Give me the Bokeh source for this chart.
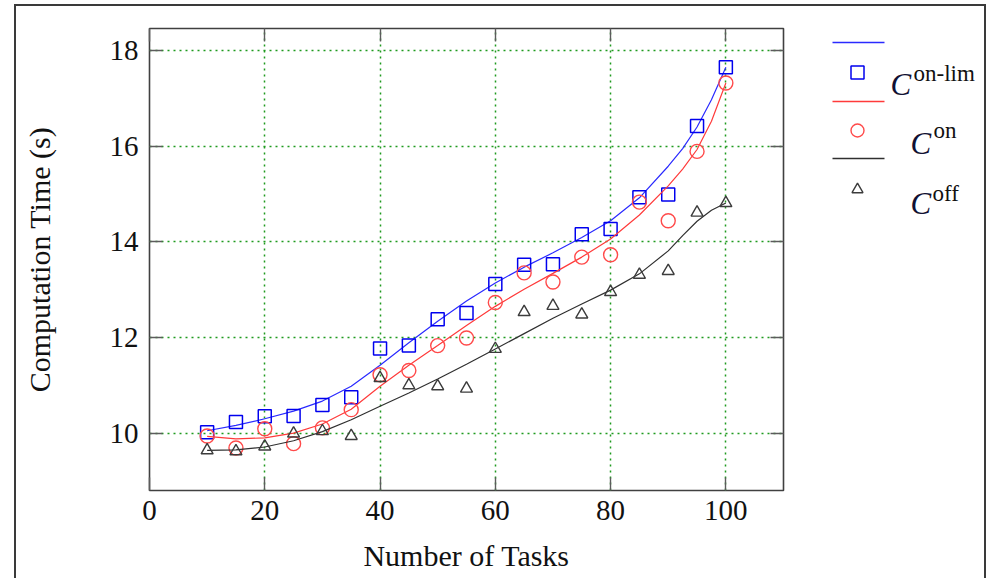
from bokeh.plotting import figure
from bokeh.models import LinearAxis, FixedTicker, Range1d
from bokeh.layouts import row
from bokeh.embed import file_html
from bokeh.resources import INLINE
from bokeh.core.properties import value

# ---------------- data ----------------
tasks = [10, 15, 20, 25, 30, 35, 40, 45, 50, 55, 60, 65, 70, 75, 80, 85, 90, 95, 100]
c_onlim = [10.02, 10.23, 10.35, 10.36, 10.59, 10.75, 11.77, 11.83, 12.38, 12.51,
           13.12, 13.52, 13.53, 14.16, 14.27, 14.93, 14.99, 16.42, 17.65]
c_on = [9.94, 9.69, 10.09, 9.78, 10.11, 10.49, 11.22, 11.31, 11.83, 11.99,
        12.73, 13.35, 13.16, 13.68, 13.73, 14.83, 14.44, 15.89, 17.32]
c_off = [9.64, 9.62, 9.72, 9.99, 10.04, 9.94, 11.15, 11.00, 10.98, 10.93,
         11.76, 12.53, 12.66, 12.48, 12.95, 13.31, 13.39, 14.61, 14.81]

fit_tasks = [10, 15, 20, 25, 30, 35, 40, 45, 50, 55, 60, 65, 70, 75, 80, 85, 90, 92.5, 95, 97.5, 100]
fit_onlim = [10.05, 10.16, 10.30, 10.46, 10.67, 10.98, 11.42, 11.89, 12.34, 12.76, 13.14,
             13.47, 13.77, 14.09, 14.44, 14.92, 15.58, 15.95, 16.40, 16.97, 17.65]
fit_on = [9.93, 9.88, 9.90, 10.00, 10.19, 10.50, 10.98, 11.42, 11.83, 12.25, 12.65,
          13.01, 13.34, 13.68, 14.06, 14.56, 15.17, 15.52, 15.93, 16.52, 17.32]
fit_off = [9.64, 9.65, 9.71, 9.84, 10.03, 10.28, 10.56, 10.84, 11.13, 11.44, 11.76,
           12.08, 12.40, 12.70, 12.99, 13.33, 13.81, 14.13, 14.43, 14.66, 14.81]

x_ticks = [0, 20, 40, 60, 80, 100]
y_ticks = [10, 12, 14, 16, 18]
x_label = "Number of Tasks"
y_label = "Computation Time (s)"
legend_base = ["C", "C", "C"]
legend_sup = ["on-lim", "on", "off"]

FONT = "Liberation Serif"
GREEN = "#1f9a1f"
FRAME = "#404040"
TICK = "#5c5c5c"
BLUE_L, BLUE_M = "#2a2aff", "#0000ee"
RED_L, RED_M = "#ff3a3a", "#ff4a4a"
BLK_L, BLK_M = "#303030", "#3c3c3c"

# ---------------- main plot ----------------
p = figure(width=784, height=574, x_range=Range1d(0, 110), y_range=Range1d(8.8, 18.46),
           output_backend="svg", toolbar_location=None,
           min_border_left=133, min_border_right=17, min_border_top=22, min_border_bottom=90)
p.background_fill_color = "white"
p.border_fill_color = "white"
p.outline_line_color = FRAME
p.outline_line_width = 1.6

bottom_ax = p.below[0]
left_ax = p.left[0]
bottom_ax.ticker = FixedTicker(ticks=x_ticks)
left_ax.ticker = FixedTicker(ticks=y_ticks)
top_ax = LinearAxis(ticker=FixedTicker(ticks=x_ticks))
right_ax = LinearAxis(ticker=FixedTicker(ticks=y_ticks))
p.add_layout(top_ax, "above")
p.add_layout(right_ax, "right")
for ax in [bottom_ax, left_ax, top_ax, right_ax]:
    ax.axis_line_color = None
    ax.major_tick_in = 13
    ax.major_tick_out = 0
    ax.minor_tick_line_color = None
    ax.major_tick_line_color = TICK
    ax.major_tick_line_width = 1.4
    ax.major_label_text_font = FONT
    ax.major_label_text_font_size = "29px"
    ax.major_label_text_color = "#111111"
for ax in [top_ax, right_ax]:
    ax.major_label_text_font_size = "0px"
    ax.major_label_text_color = None
    ax.major_label_standoff = 0

bottom_ax.major_label_standoff = 10
left_ax.major_label_standoff = 11
bottom_ax.axis_label = x_label
left_ax.axis_label = y_label
for ax in [bottom_ax, left_ax]:
    ax.axis_label_text_font = FONT
    ax.axis_label_text_font_size = "30px"
    ax.axis_label_text_font_style = "normal"
    ax.axis_label_text_color = "#111111"
bottom_ax.axis_label_standoff = 16
left_ax.axis_label_standoff = 51

p.xgrid.ticker = FixedTicker(ticks=x_ticks)
p.ygrid.ticker = FixedTicker(ticks=y_ticks)
for g in [p.xgrid[0], p.ygrid[0]]:
    g.grid_line_color = GREEN
    g.grid_line_dash = "2 4"
    g.grid_line_width = 1.5

p.line(fit_tasks, fit_onlim, line_color=BLUE_L, line_width=1.2)
p.scatter(tasks, c_onlim, marker="square", size=13, fill_color=None,
          line_color=BLUE_M, line_width=1.5)
p.line(fit_tasks, fit_on, line_color=RED_L, line_width=1.2)
p.scatter(tasks, c_on, marker="circle", size=14, fill_color=None,
          line_color=RED_M, line_width=1.4)
p.line(fit_tasks, fit_off, line_color=BLK_L, line_width=1.2)
p.scatter(tasks, c_off, marker="triangle", size=12, fill_color=None,
          line_color=BLK_M, line_width=1.4)

# ---------------- legend panel (page pixel coordinates; frame aligned with main frame) ----------------
leg = figure(width=184, height=574, x_range=Range1d(800, 984), y_range=Range1d(490, 28),
             output_backend="svg", toolbar_location=None, x_axis_type=None, y_axis_type=None,
             min_border_left=0, min_border_right=0, min_border_top=22, min_border_bottom=90)
leg.outline_line_color = None
leg.background_fill_color = "white"
leg.border_fill_color = "white"

seg_y = [42, 101, 158]
leg.segment(x0=[832] * 3, x1=[884] * 3, y0=seg_y, y1=seg_y,
            line_color=[BLUE_L, RED_L, BLK_L], line_width=1.4)
leg.scatter([857], [72], marker="square", size=13, fill_color=None, line_color=BLUE_M, line_width=1.5)
leg.scatter([857], [130], marker="circle", size=13, fill_color=None, line_color=RED_M, line_width=1.4)
leg.scatter([857], [189], marker="triangle", size=11, fill_color=None, line_color=BLK_M, line_width=1.4)

leg.text(x=[890, 910, 910], y=[84, 143, 203], text=legend_base,
         text_font=value(FONT), text_font_style="italic", text_font_size="31px",
         text_color="#111133", text_baseline="alphabetic", text_align="left")
leg.text(x=[913, 933, 932], y=[73, 130, 193], text=legend_sup,
         text_font=value(FONT), text_font_size="23px", text_color="#111111",
         text_baseline="alphabetic", text_align="left")

layout = row(p, leg, spacing=0)
layout.margin = (4, 0, 0, 14)
layout.styles = {"border-left": "2px solid #3a3a3a", "border-top": "2px solid #3a3a3a",
                 "border-right": "2px solid #3a3a3a"}

open("out.html", "w").write(file_html(layout, INLINE))
